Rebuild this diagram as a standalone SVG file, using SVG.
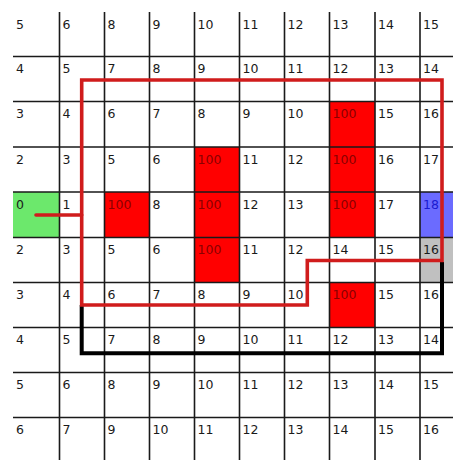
<svg xmlns="http://www.w3.org/2000/svg" width="453" height="460" viewBox="0 0 453 460">
<style>
.g{stroke:#1a1a1a;stroke-width:1.6;fill:none}
.t{font-family:"DejaVu Sans",Verdana,sans-serif;font-size:12.5px;fill:#1a1a1a}
.w{fill:#8a0000}
.red{fill:#ff0000}
.rp{fill:none;stroke:#d01c1c;stroke-width:3.6;stroke-linejoin:miter}
.bp{fill:none;stroke:#000;stroke-width:4}
</style>
<rect x="0" y="0" width="453" height="460" fill="#fff"/>
<g id="cells">
<rect x="13" y="192" width="46.5" height="45.5" fill="#6ce86c"/>
<rect x="420" y="192" width="33" height="45.5" fill="#6b6bff"/>
<rect x="420" y="237.5" width="33" height="45" fill="#c0c0c0"/>
<rect class="red" x="329.5" y="101.5" width="45.5" height="45.5"/>
<rect class="red" x="194.5" y="147" width="45" height="45"/>
<rect class="red" x="329.5" y="147" width="45.5" height="45"/>
<rect class="red" x="104.5" y="192" width="45" height="45.5"/>
<rect class="red" x="194.5" y="192" width="45" height="45.5"/>
<rect class="red" x="329.5" y="192" width="45.5" height="45.5"/>
<rect class="red" x="194.5" y="237.5" width="45" height="45"/>
<rect class="red" x="329.5" y="282.5" width="45.5" height="45"/>
</g>
<g id="grid">
<path class="g" d="M59.5 12V460M104.5 12V460M149.5 12V460M194.5 12V460M239.5 12V460M284.5 12V460M329.5 12V460M375 12V460M420 12V460"/>
<path class="g" d="M13 56.5H453M13 101.5H453M13 147H453M13 192H453M13 237.5H453M13 282.5H453M13 327.5H453M13 372.5H453M13 417.5H453"/>
</g>
<g id="labels" class="t">
<text x="16" y="28.5">5</text><text x="62.5" y="28.5">6</text><text x="107.5" y="28.5">8</text><text x="152.5" y="28.5">9</text><text x="197.5" y="28.5">10</text><text x="242.5" y="28.5">11</text><text x="287.5" y="28.5">12</text><text x="332.5" y="28.5">13</text><text x="378" y="28.5">14</text><text x="423" y="28.5">15</text>
<text x="16" y="73">4</text><text x="62.5" y="73">5</text><text x="107.5" y="73">7</text><text x="152.5" y="73">8</text><text x="197.5" y="73">9</text><text x="242.5" y="73">10</text><text x="287.5" y="73">11</text><text x="332.5" y="73">12</text><text x="378" y="73">13</text><text x="423" y="73">14</text>
<text x="16" y="118">3</text><text x="62.5" y="118">4</text><text x="107.5" y="118">6</text><text x="152.5" y="118">7</text><text x="197.5" y="118">8</text><text x="242.5" y="118">9</text><text x="287.5" y="118">10</text><text class="w" x="332.5" y="118">100</text><text x="378" y="118">15</text><text x="423" y="118">16</text>
<text x="16" y="163.5">2</text><text x="62.5" y="163.5">3</text><text x="107.5" y="163.5">5</text><text x="152.5" y="163.5">6</text><text class="w" x="197.5" y="163.5">100</text><text x="242.5" y="163.5">11</text><text x="287.5" y="163.5">12</text><text class="w" x="332.5" y="163.5">100</text><text x="378" y="163.5">16</text><text x="423" y="163.5">17</text>
<text x="16" y="208.5">0</text><text x="62.5" y="208.5">1</text><text class="w" x="107.5" y="208.5">100</text><text x="152.5" y="208.5">8</text><text class="w" x="197.5" y="208.5">100</text><text x="242.5" y="208.5">12</text><text x="287.5" y="208.5">13</text><text class="w" x="332.5" y="208.5">100</text><text x="378" y="208.5">17</text><text x="423" y="208.5" fill="#1a1ad0">18</text>
<text x="16" y="254">2</text><text x="62.5" y="254">3</text><text x="107.5" y="254">5</text><text x="152.5" y="254">6</text><text class="w" x="197.5" y="254">100</text><text x="242.5" y="254">11</text><text x="287.5" y="254">12</text><text x="332.5" y="254">14</text><text x="378" y="254">15</text><text x="423" y="254">16</text>
<text x="16" y="299">3</text><text x="62.5" y="299">4</text><text x="107.5" y="299">6</text><text x="152.5" y="299">7</text><text x="197.5" y="299">8</text><text x="242.5" y="299">9</text><text x="287.5" y="299">10</text><text class="w" x="332.5" y="299">100</text><text x="378" y="299">15</text><text x="423" y="299">16</text>
<text x="16" y="344">4</text><text x="62.5" y="344">5</text><text x="107.5" y="344">7</text><text x="152.5" y="344">8</text><text x="197.5" y="344">9</text><text x="242.5" y="344">10</text><text x="287.5" y="344">11</text><text x="332.5" y="344">12</text><text x="378" y="344">13</text><text x="423" y="344">14</text>
<text x="16" y="389">5</text><text x="62.5" y="389">6</text><text x="107.5" y="389">8</text><text x="152.5" y="389">9</text><text x="197.5" y="389">10</text><text x="242.5" y="389">11</text><text x="287.5" y="389">12</text><text x="332.5" y="389">13</text><text x="378" y="389">14</text><text x="423" y="389">15</text>
<text x="16" y="434">6</text><text x="62.5" y="434">7</text><text x="107.5" y="434">9</text><text x="152.5" y="434">10</text><text x="197.5" y="434">11</text><text x="242.5" y="434">12</text><text x="287.5" y="434">13</text><text x="332.5" y="434">14</text><text x="378" y="434">15</text><text x="423" y="434">16</text>
</g>
<g id="connectors">
<path class="bp" d="M81.7 305V353.3H442V262"/>
<path class="rp" d="M81.7 80H442V260.5H307.3V305H81.7Z"/>
<path class="rp" d="M36 215H81.7" stroke-linecap="round"/>
</g>
</svg>
